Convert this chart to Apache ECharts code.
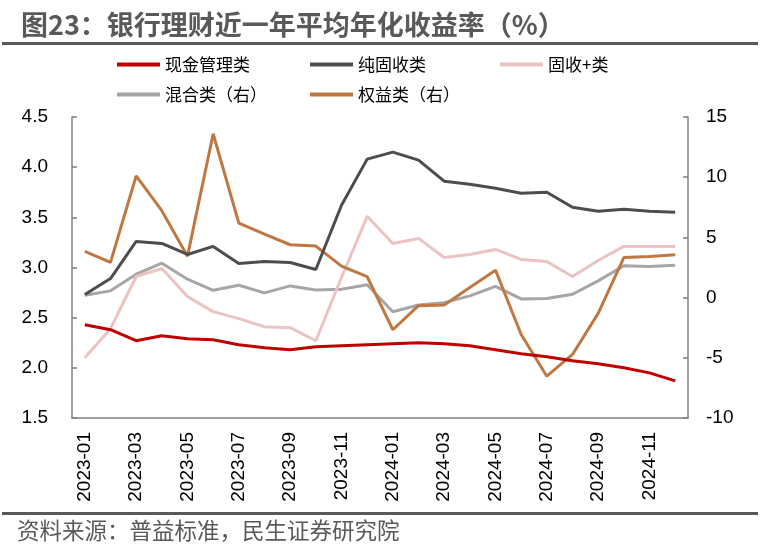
<!DOCTYPE html>
<html><head><meta charset="utf-8">
<script src="https://cdn.jsdelivr.net/npm/echarts@6/dist/echarts.min.js"></script>
<style>html,body{margin:0;padding:0;background:#fff}#c{width:763px;height:555px}</style>
</head><body><div id="c"></div>
<script>
const months = ['2023-01','2023-02','2023-03','2023-04','2023-05','2023-06','2023-07','2023-08','2023-09','2023-10','2023-11','2023-12',
  '2024-01','2024-02','2024-03','2024-04','2024-05','2024-06','2024-07','2024-08','2024-09','2024-10','2024-11','2024-12'];
const cashMgmt = [2.43,2.38,2.27,2.32,2.29,2.28,2.23,2.20,2.18,2.21,2.22,2.23,2.24,2.25,2.24,2.22,2.18,2.14,2.11,2.07,2.04,2.00,1.95,1.87];
const pureFixed = [2.73,2.89,3.26,3.24,3.13,3.21,3.04,3.06,3.05,2.98,3.62,4.08,4.15,4.07,3.86,3.83,3.79,3.74,3.75,3.60,3.56,3.58,3.56,3.55];
const fixedPlus = [2.10,2.39,2.91,2.99,2.71,2.56,2.49,2.41,2.40,2.27,2.90,3.51,3.24,3.29,3.10,3.13,3.18,3.08,3.06,2.91,3.07,3.21,3.21,3.21];
const mixed = [0.19,0.56,1.94,2.86,1.53,0.61,1.03,0.39,0.97,0.64,0.69,1.06,-1.17,-0.61,-0.42,0.14,0.94,-0.11,-0.08,0.28,1.39,2.64,2.58,2.69];
const equity = [3.83,2.92,10.11,7.22,3.44,13.61,6.19,5.28,4.39,4.28,2.61,1.75,-2.67,-0.67,-0.61,0.83,2.28,-3.06,-6.53,-4.72,-1.31,3.33,3.42,3.56];
const names = ['现金管理类','纯固收类','固收+类','混合类（右）','权益类（右）'];
const colors = ['#C00000','#4D4D4D','#EBC3C3','#A6A6A6','#BF7842'];
const leftTicks = {min:1.5, max:4.5, interval:0.5};
const rightTicks = {min:-10, max:15, interval:5};

const FONT = '"Liberation Sans","Noto Sans CJK SC",sans-serif';
const chart = echarts.init(document.getElementById('c'));
const legendPos = [[117,56],[310,56],[500,56],[117,86],[310,86]];
const datas = [cashMgmt, pureFixed, fixedPlus, mixed, equity];
chart.setOption({
  animation:false,
  title:{text:'图23：银行理财近一年平均年化收益率（%）', left:16, top:6,
    textStyle:{fontFamily:'"Noto Sans CJK SC",sans-serif', fontSize:27, fontWeight:'bold', color:'#595959'}},
  graphic:[
    {type:'rect', shape:{x:2,y:42,width:756,height:3}, style:{fill:'#595959'}},
    {type:'rect', shape:{x:2,y:512,width:756,height:3}, style:{fill:'#595959'}},
    {type:'text', left:17, top:519, style:{text:'资料来源：普益标准，民生证券研究院', font:'22.5px "Noto Sans CJK SC", sans-serif', fill:'#595959'}}
  ],
  legend: names.map((n,i)=>({data:[n], left:legendPos[i][0], top:legendPos[i][1], padding:0,
    icon:'rect', itemWidth:43, itemHeight:4, itemGap:5,
    textStyle:{fontFamily:'"Noto Sans CJK SC",sans-serif', fontSize:17, color:'#000'}})),
  grid:{left:72, right:75, top:117, bottom:137},
  xAxis:{type:'category', data:months, boundaryGap:true,
    axisLine:{onZero:false, lineStyle:{color:'#808080', width:1.5}},
    axisTick:{interval:1, length:5, lineStyle:{color:'#808080', width:1.5}},
    axisLabel:{interval:1, rotate:90, margin:14, color:'#000', fontSize:19, fontFamily:FONT}},
  yAxis:[
    {type:'value', min:leftTicks.min, max:leftTicks.max, interval:leftTicks.interval, position:'left',
      splitLine:{show:false},
      axisLine:{show:true, lineStyle:{color:'#808080', width:1.5}},
      axisTick:{show:true, inside:true, length:5, lineStyle:{color:'#808080', width:1.5}},
      axisLabel:{margin:24, color:'#000', fontSize:19, fontFamily:FONT, formatter:v=>v.toFixed(1)}},
    {type:'value', min:rightTicks.min, max:rightTicks.max, interval:rightTicks.interval, position:'right',
      splitLine:{show:false},
      axisLine:{show:true, lineStyle:{color:'#808080', width:1.5}},
      axisTick:{show:true, inside:true, length:5, lineStyle:{color:'#808080', width:1.5}},
      axisLabel:{margin:18, color:'#000', fontSize:19, fontFamily:FONT}}
  ],
  series: names.map((n,i)=>({name:n, type:'line', data:datas[i], yAxisIndex: i>=3?1:0,
    symbol:'none', lineStyle:{width:3, color:colors[i]}, itemStyle:{color:colors[i]}, z: [5,4,2,1,3][i]}))
});
</script></body></html>
